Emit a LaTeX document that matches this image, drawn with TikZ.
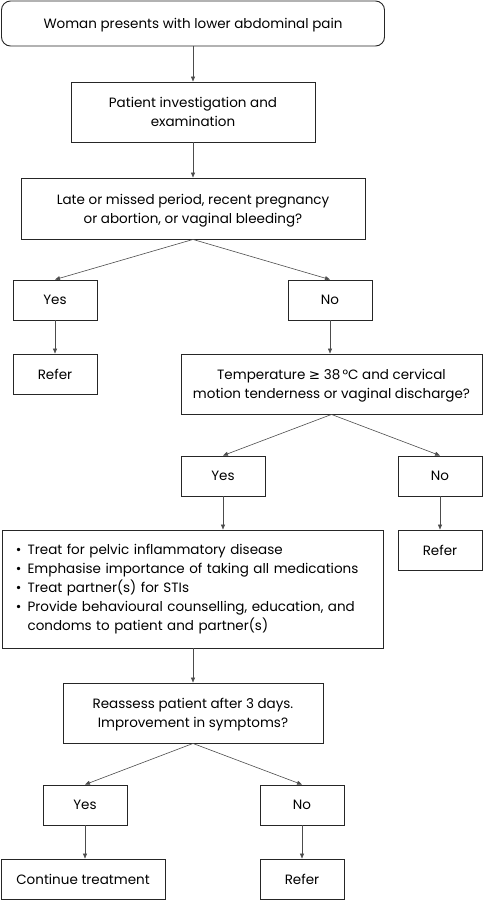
\documentclass[tikz,border=0pt]{standalone}
\usepackage{fontspec}
\setmainfont{Poppins}
\newfontfamily\symfont{DejaVu Sans}
\usetikzlibrary{arrows.meta}
\tikzset{
  box/.style={draw=black!85, line width=0.9pt, rectangle, inner sep=0pt, align=center,
    text depth=0pt, font=\fontsize{13.5}{19}\selectfont},
  arr/.style={draw=black!70, line width=0.6pt, -{Triangle[length=5pt,width=4pt]}},
}
\begin{document}
\begin{tikzpicture}[x=1pt,y=-1pt]
\useasboundingbox (0,0) rectangle (484,900);
\node[box, rounded corners=9pt, minimum width=383pt, minimum height=45pt] (start) at (193,23.5) {Woman presents with lower abdominal pain};
\node[box, minimum width=244pt, minimum height=60pt] (pie) at (193,112) {Patient investigation and\\examination};
\node[box, minimum width=344pt, minimum height=61pt] (q1) at (193,208.5) {Late or missed period, recent pregnancy\\or abortion, or vaginal bleeding?};
\node[box, minimum width=84pt, minimum height=40pt] (yes1) at (55,300) {Yes};
\node[box, minimum width=84pt, minimum height=40pt] (no1) at (330,300) {No};
\node[box, minimum width=84pt, minimum height=40pt] (refer1) at (55,374) {Refer};
\node[box, minimum width=301pt, minimum height=60pt] (q2) at (331.5,384) {Temperature {\symfont ≥} 38\,°C and cervical\\motion tenderness or vaginal discharge?};
\node[box, minimum width=84pt, minimum height=40pt] (yes2) at (223,476) {Yes};
\node[box, minimum width=84pt, minimum height=40pt] (no2) at (440,476) {No};
\node[box, text depth={}, minimum width=381pt, minimum height=118pt, inner xsep=14pt, text width=353pt, align=left] (treat) at (192.5,589) {%
\hyphenpenalty=10000
\textbullet\hspace{6pt}Treat for pelvic inflammatory disease\\
\textbullet\hspace{6pt}Emphasise importance of taking all medications\\
\textbullet\hspace{6pt}Treat partner(s) for STIs\\
\textbullet\hspace{6pt}Provide behavioural counselling, education, and\\
\phantom{\textbullet}\hspace{6pt}condoms to patient and partner(s)};
\node[box, minimum width=84pt, minimum height=40pt] (refer2) at (440,550) {Refer};
\node[box, minimum width=260pt, minimum height=60pt] (re) at (193,713) {Reassess patient after 3 days.\\Improvement in symptoms?};
\node[box, minimum width=84pt, minimum height=40pt] (yes3) at (85,805) {Yes};
\node[box, minimum width=84pt, minimum height=40pt] (no3) at (302,805) {No};
\node[box, minimum width=164pt, minimum height=40pt] (cont) at (83,879) {Continue treatment};
\node[box, minimum width=84pt, minimum height=40pt] (refer3) at (302,879) {Refer};
\draw[arr] (start) -- (pie);
\draw[arr] (pie) -- (q1);
\draw[arr] (q1.south) -- (yes1.north);
\draw[arr] (q1.south) -- (no1.north);
\draw[arr] (yes1) -- (refer1);
\draw[arr] (no1.south) -- (no1.south |- q2.north);
\draw[arr] (q2.south) -- (yes2.north);
\draw[arr] (q2.south) -- (no2.north);
\draw[arr] (yes2.south) -- (yes2.south |- treat.north);
\draw[arr] (no2) -- (refer2);
\draw[arr] (treat.south -| re.north) -- (re.north);
\draw[arr] (re.south) -- (yes3.north);
\draw[arr] (re.south) -- (no3.north);
\draw[arr] (yes3.south) -- (yes3.south |- cont.north);
\draw[arr] (no3) -- (refer3);
\end{tikzpicture}
\end{document}
